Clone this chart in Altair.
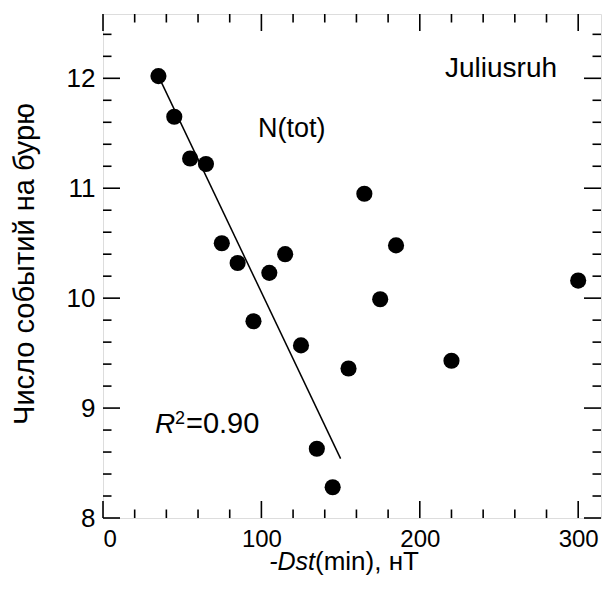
import altair as alt
import pandas as pd

# data
dst = [35, 45, 55, 65, 75, 85, 95, 105, 115, 125, 135, 145, 155, 165, 175, 185, 220, 300]
n_events = [12.02, 11.65, 11.27, 11.22, 10.50, 10.32, 9.79, 10.23, 10.40, 9.57,
            8.63, 8.28, 9.36, 10.95, 9.99, 10.48, 9.43, 10.16]
fit_x = [35, 150]
fit_y = [12.02, 8.54]

x_major = [0, 100, 200, 300]
x_minor = [20, 40, 60, 80, 120, 140, 160, 180, 220, 240, 260, 280]
y_major = [8, 9, 10, 11, 12]
y_minor = [8.2, 8.4, 8.6, 8.8, 9.2, 9.4, 9.6, 9.8, 10.2, 10.4, 10.6, 10.8,
           11.2, 11.4, 11.6, 11.8, 12.2, 12.4]

W, H = 498, 504
FONT = "Liberation Sans"
MAJ, MIN = 17, 8.5

xs = alt.Scale(domain=[0, 314.4], nice=False, zero=False)
ys = alt.Scale(domain=[8, 12.585], nice=False, zero=False)

pts = pd.DataFrame({"x": dst, "y": n_events})
fit = pd.DataFrame({"x": fit_x, "y": fit_y})
xmaj = pd.DataFrame({"x": x_major})
xmin_ = pd.DataFrame({"x": x_minor})
ymaj = pd.DataFrame({"y": y_major})
ymin_ = pd.DataFrame({"y": y_minor})

xaxis = alt.Axis(values=x_major, ticks=False, domain=False, grid=False, title=None,
                 labelFont=FONT, labelFontSize=24, labelColor="black",
                 labelPadding=9, format="d")
yaxis = alt.Axis(values=y_major, ticks=False, domain=False, grid=False, title=None,
                 labelFont=FONT, labelFontSize=26, labelColor="black",
                 labelPadding=8, format="d")

base_pts = alt.Chart(pts).mark_circle(size=260, color="black", opacity=1).encode(
    x=alt.X("x:Q", scale=xs, axis=xaxis),
    y=alt.Y("y:Q", scale=ys, axis=yaxis),
)

line = alt.Chart(fit).mark_line(color="black", strokeWidth=1.5).encode(
    x=alt.X("x:Q", scale=xs), y=alt.Y("y:Q", scale=ys)
)

def xticks(df, length):
    bottom = alt.Chart(df).mark_rule(color="black", strokeWidth=1.6).encode(
        x=alt.X("x:Q", scale=xs), y=alt.value(H), y2=alt.value(H - length))
    top = alt.Chart(df).mark_rule(color="black", strokeWidth=1.6).encode(
        x=alt.X("x:Q", scale=xs), y=alt.value(0), y2=alt.value(length))
    return [bottom, top]

def yticks(df, length):
    left = alt.Chart(df).mark_rule(color="black", strokeWidth=1.6).encode(
        y=alt.Y("y:Q", scale=ys), x=alt.value(0), x2=alt.value(length))
    right = alt.Chart(df).mark_rule(color="black", strokeWidth=1.6).encode(
        y=alt.Y("y:Q", scale=ys), x=alt.value(W), x2=alt.value(W - length))
    return [left, right]

ticks = xticks(xmaj, MAJ) + xticks(xmin_, MIN) + yticks(ymaj, MAJ) + yticks(ymin_, MIN)

def txt(s, x, y, size=27, style="normal", align="left", angle=0, baseline="alphabetic"):
    return alt.Chart(pd.DataFrame({"t": [s]})).mark_text(
        font=FONT, fontSize=size, fontStyle=style, align=align, baseline=baseline,
        angle=angle, color="black"
    ).encode(x=alt.value(x), y=alt.value(y), text="t:N")

annots = [
    txt("Juliusruh", 342, 63, size=28),
    txt("N(tot)", 155, 123, size=27),
    txt("R", 52, 419, size=28, style="italic"),
    txt("2", 72, 410, size=18),
    txt("=0.90", 83, 419, size=29),
    txt("-Dst", 212, 556, size=25, style="italic", align="right"),
    txt("(min), нТ", 212, 556, size=26),
    txt("Число событий на бурю", -78, 250, size=29, angle=270, align="center", baseline="middle"),
]

chart = alt.layer(*ticks, line, base_pts, *annots).properties(
    width=W, height=H,
    autosize=alt.AutoSizeParams(type="none"),
    padding={"left": 95, "top": 6, "right": 1, "bottom": 58},
).configure_view(stroke="black", strokeWidth=2).configure(background="white")

chart.save("out.html", embed_options={"renderer": "svg", "actions": False})
